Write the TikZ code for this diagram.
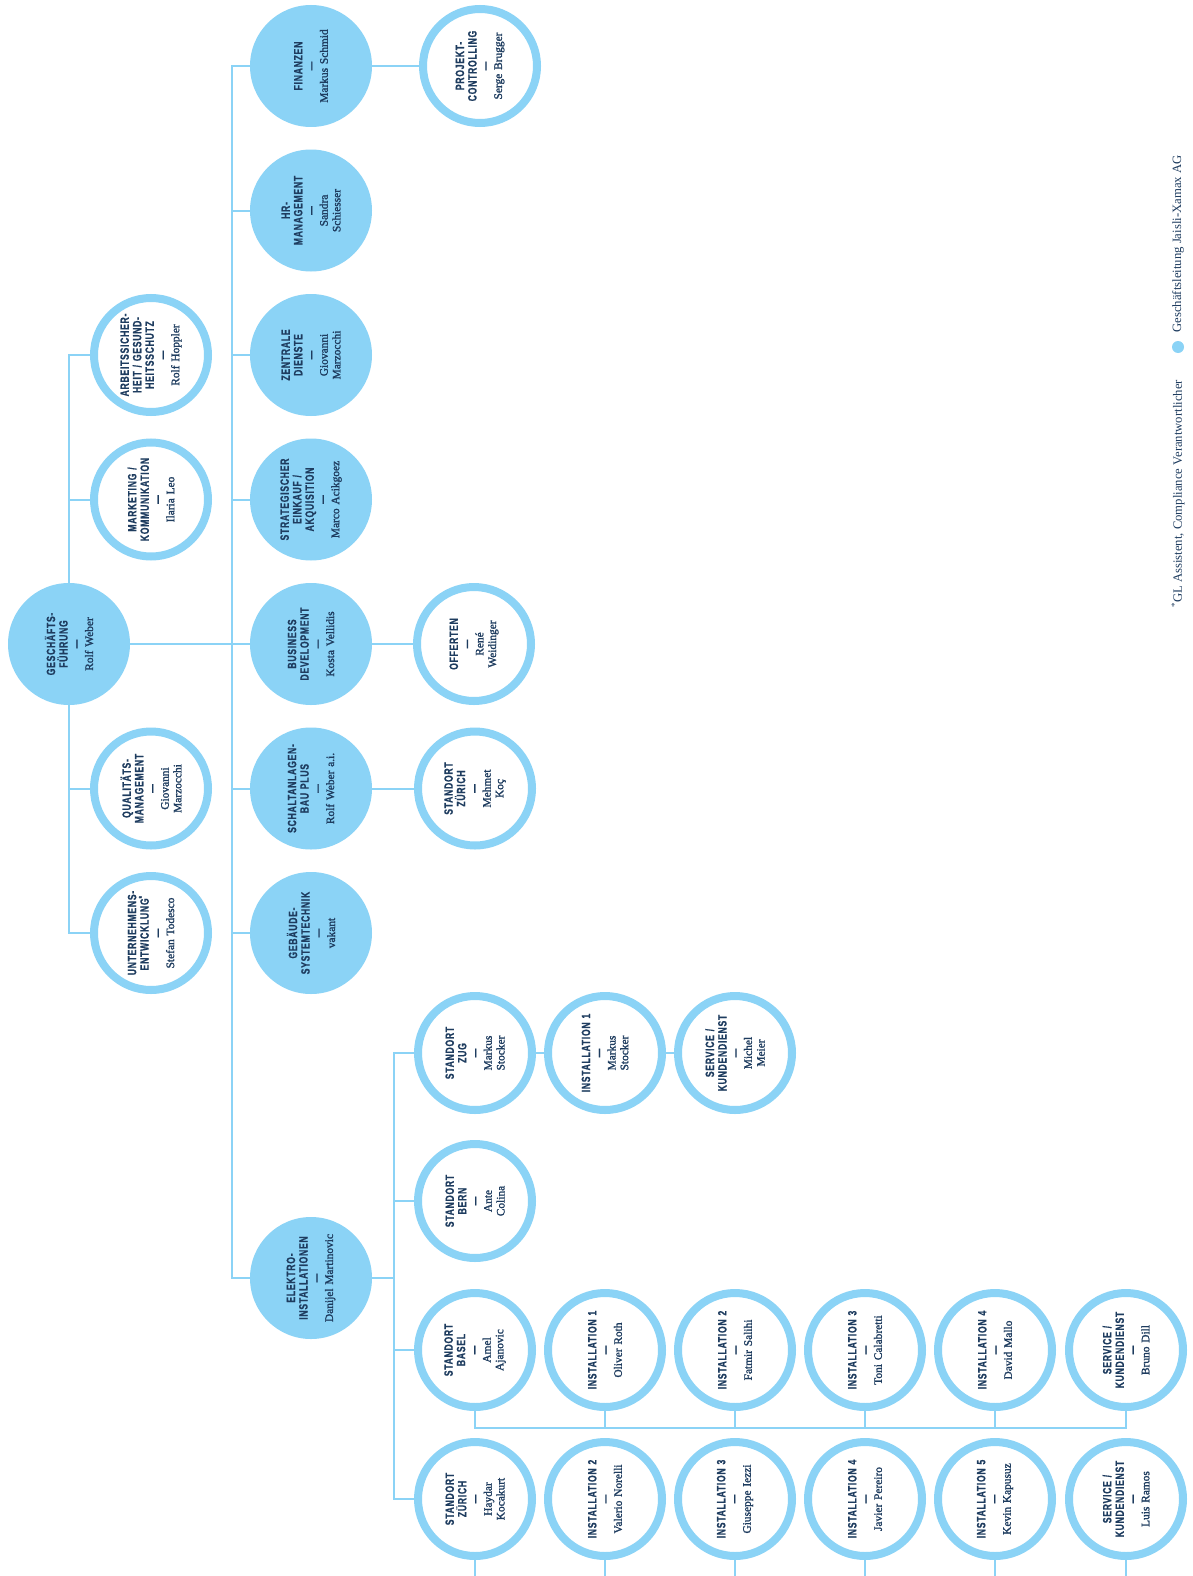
\documentclass[tikz,border=0pt]{standalone}
\usepackage{fontspec}
\usepackage{xcolor}
\usetikzlibrary{positioning}
\setmainfont{Liberation Serif}
\newfontfamily\titlefam[FakeStretch=0.72,LetterSpace=6,BoldFeatures={FakeBold=0.7}]{Liberation Sans}
\newfontfamily\namefam[FakeBold=1.6]{Liberation Serif}
\newcommand{\ttl}{\titlefam\bfseries\fontsize{12}{12.5}\selectfont}
\newcommand{\nm}{\namefam\fontsize{11.4}{12.7}\selectfont}
\newcommand{\orgunit}[2]{{\ttl #1\\—}\\#2}
\definecolor{jxblue}{HTML}{8BD3F6}
\definecolor{jxnavy}{HTML}{1E3C5F}

\tikzset{
  leadunit/.style={circle,fill=jxblue,minimum size=122pt,inner sep=0pt,rotate=90,
    text width=92pt,align=center,text=jxnavy,font=\nm},
  teamunit/.style={circle,draw=jxblue,line width=8pt,fill=white,minimum size=114pt,inner sep=0pt,
    rotate=90,text width=92pt,align=center,text=jxnavy,font=\nm},
  link/.style={draw=jxblue,line width=2pt},
  legendtext/.style={rotate=90,text=jxnavy,font=\rmfamily\fontsize{12.7}{14}\selectfont,inner sep=0pt},
  legenddot/.style={circle,fill=jxblue,minimum size=12pt,inner sep=0pt}
}

\begin{document}
\begin{tikzpicture}[x=1pt,y=-1pt]
  \fill[white] (0,0) rectangle (1192,1576);
  \useasboundingbox (0,0) rectangle (1192,1576);

  \node[leadunit] (gf) at (69,644) {\orgunit{GESCHÄFTS-\\FÜHRUNG}{Rolf Weber}};

  \node[teamunit] (arbeit) at (151,355) {\orgunit{ARBEITSSICHER-\\HEIT / GESUND-\\HEITSSCHUTZ}{Rolf Hoppler}};
  \node[teamunit] (marketing) at (151,499.5) {\orgunit{MARKETING /\\KOMMUNIKATION}{Ilaria Leo}};
  \node[teamunit] (quali) at (151,788.5) {\orgunit{QUALITÄTS-\\MANAGEMENT}{Giovanni\\Marzocchi}};
  \node[teamunit] (entw) at (151,933) {\orgunit{UNTERNEHMENS-\\ENTWICKLUNG\textsuperscript{*}}{Stefan Todesco}};

  \node[leadunit] (finanzen) at (311,66) {\orgunit{FINANZEN}{Markus Schmid}};
  \node[leadunit] (hr) at (311,210.5) {\orgunit{HR-\\MANAGEMENT}{Sandra\\Schiesser}};
  \node[leadunit] (dienste) at (311,355) {\orgunit{ZENTRALE\\DIENSTE}{Giovanni\\Marzocchi}};
  \node[leadunit] (einkauf) at (311,499.5) {\orgunit{STRATEGISCHER\\EINKAUF /\\AKQUISITION}{Marco Acikgoez}};
  \node[leadunit] (business) at (311,644) {\orgunit{BUSINESS\\DEVELOPMENT}{Kosta Vellidis}};
  \node[leadunit] (schalt) at (311,788.5) {\orgunit{SCHALTANLAGEN-\\BAU PLUS}{Rolf Weber a.i.}};
  \node[leadunit] (gebaeude) at (311,933) {\orgunit{GEBÄUDE-\\SYSTEMTECHNIK}{vakant}};
  \node[leadunit] (elektro) at (311,1278) {\orgunit{ELEKTRO-\\INSTALLATIONEN}{Danijel Martinovic}};

  \node[teamunit] (controlling) at (480,66) {\orgunit{PROJEKT-\\CONTROLLING}{Serge Brugger}};
  \node[teamunit] (offerten) at (474,644) {\orgunit{OFFERTEN}{René\\Weidinger}};
  \node[teamunit] (schaltzh) at (475,788.5) {\orgunit{STANDORT\\ZÜRICH}{Mehmet\\Koç}};

  \node[teamunit] (zug) at (475,1053) {\orgunit{STANDORT\\ZUG}{Markus\\Stocker}};
  \node[teamunit] (zuginst) at (605,1053) {\orgunit{INSTALLATION 1}{Markus\\Stocker}};
  \node[teamunit] (zugsrv) at (735,1053) {\orgunit{SERVICE /\\KUNDENDIENST}{Michel\\Meier}};

  \node[teamunit] (bern) at (475,1201) {\orgunit{STANDORT\\BERN}{Ante\\Colina}};

  \node[teamunit] (basel) at (475,1350) {\orgunit{STANDORT\\BASEL}{Amel\\Ajanovic}};
  \node[teamunit] (basinst1) at (605,1350) {\orgunit{INSTALLATION 1}{Oliver Roth}};
  \node[teamunit] (basinst2) at (735,1350) {\orgunit{INSTALLATION 2}{Fatmir Salihi}};
  \node[teamunit] (basinst3) at (865,1350) {\orgunit{INSTALLATION 3}{Toni Calabretti}};
  \node[teamunit] (basinst4) at (995,1350) {\orgunit{INSTALLATION 4}{David Mallo}};
  \node[teamunit] (bassrv) at (1126,1350) {\orgunit{SERVICE /\\KUNDENDIENST}{Bruno Dill}};

  \node[teamunit] (zuerich) at (475,1499) {\orgunit{STANDORT\\ZÜRICH}{Haydar\\Kocakurt}};
  \node[teamunit] (zhinst2) at (605,1499) {\orgunit{INSTALLATION 2}{Valerio Norelli}};
  \node[teamunit] (zhinst3) at (735,1499) {\orgunit{INSTALLATION 3}{Giuseppe Iezzi}};
  \node[teamunit] (zhinst4) at (865,1499) {\orgunit{INSTALLATION 4}{Javier Pereiro}};
  \node[teamunit] (zhinst5) at (995,1499) {\orgunit{INSTALLATION 5}{Kevin Kapusuz}};
  \node[teamunit] (zhsrv) at (1126,1499) {\orgunit{SERVICE /\\KUNDENDIENST}{Luis Ramos}};

  \node[legendtext] (legorg) at (1178,244) {Geschäftsleitung Jaisli-Xamax AG};
  \node[legenddot] (legdot) at (1178,347) {};
  \node[legendtext] (legnote) at (1178,494) {\textsuperscript{*}GL Assistent, Compliance Verantwortlicher};

  \coordinate (hub) at (232,644);
  \coordinate (ehub) at (394,1278);
  \coordinate (basbus) at (0,1428);
  \coordinate (edge) at (0,1576);

  \draw[link] (arbeit) -| (gf);
  \draw[link] (marketing) -| (gf);
  \draw[link] (quali) -| (gf);
  \draw[link] (entw) -| (gf);

  \draw[link] (gf) -- (business);
  \draw[link] (finanzen) -| (hub);
  \draw[link] (hr) -| (hub);
  \draw[link] (dienste) -| (hub);
  \draw[link] (einkauf) -| (hub);
  \draw[link] (schalt) -| (hub);
  \draw[link] (gebaeude) -| (hub);
  \draw[link] (elektro) -| (hub);

  \draw[link] (finanzen) -- (controlling);
  \draw[link] (business) -- (offerten);
  \draw[link] (schalt) -- (schaltzh);

  \draw[link] (elektro) -- (ehub);
  \draw[link] (zug) -| (ehub);
  \draw[link] (bern) -| (ehub);
  \draw[link] (basel) -| (ehub);
  \draw[link] (zuerich) -| (ehub);

  \draw[link] (zug) -- (zuginst);
  \draw[link] (zuginst) -- (zugsrv);

  \draw[link] (basel) |- (basbus -| bassrv) -- (bassrv);
  \draw[link] (basinst1) -- (basinst1 |- basbus);
  \draw[link] (basinst2) -- (basinst2 |- basbus);
  \draw[link] (basinst3) -- (basinst3 |- basbus);
  \draw[link] (basinst4) -- (basinst4 |- basbus);

  \draw[link] (zuerich) -- (zuerich |- edge);
  \draw[link] (zhinst2) -- (zhinst2 |- edge);
  \draw[link] (zhinst3) -- (zhinst3 |- edge);
  \draw[link] (zhinst4) -- (zhinst4 |- edge);
  \draw[link] (zhinst5) -- (zhinst5 |- edge);
  \draw[link] (zhsrv) -- (zhsrv |- edge);
\end{tikzpicture}
\end{document}
